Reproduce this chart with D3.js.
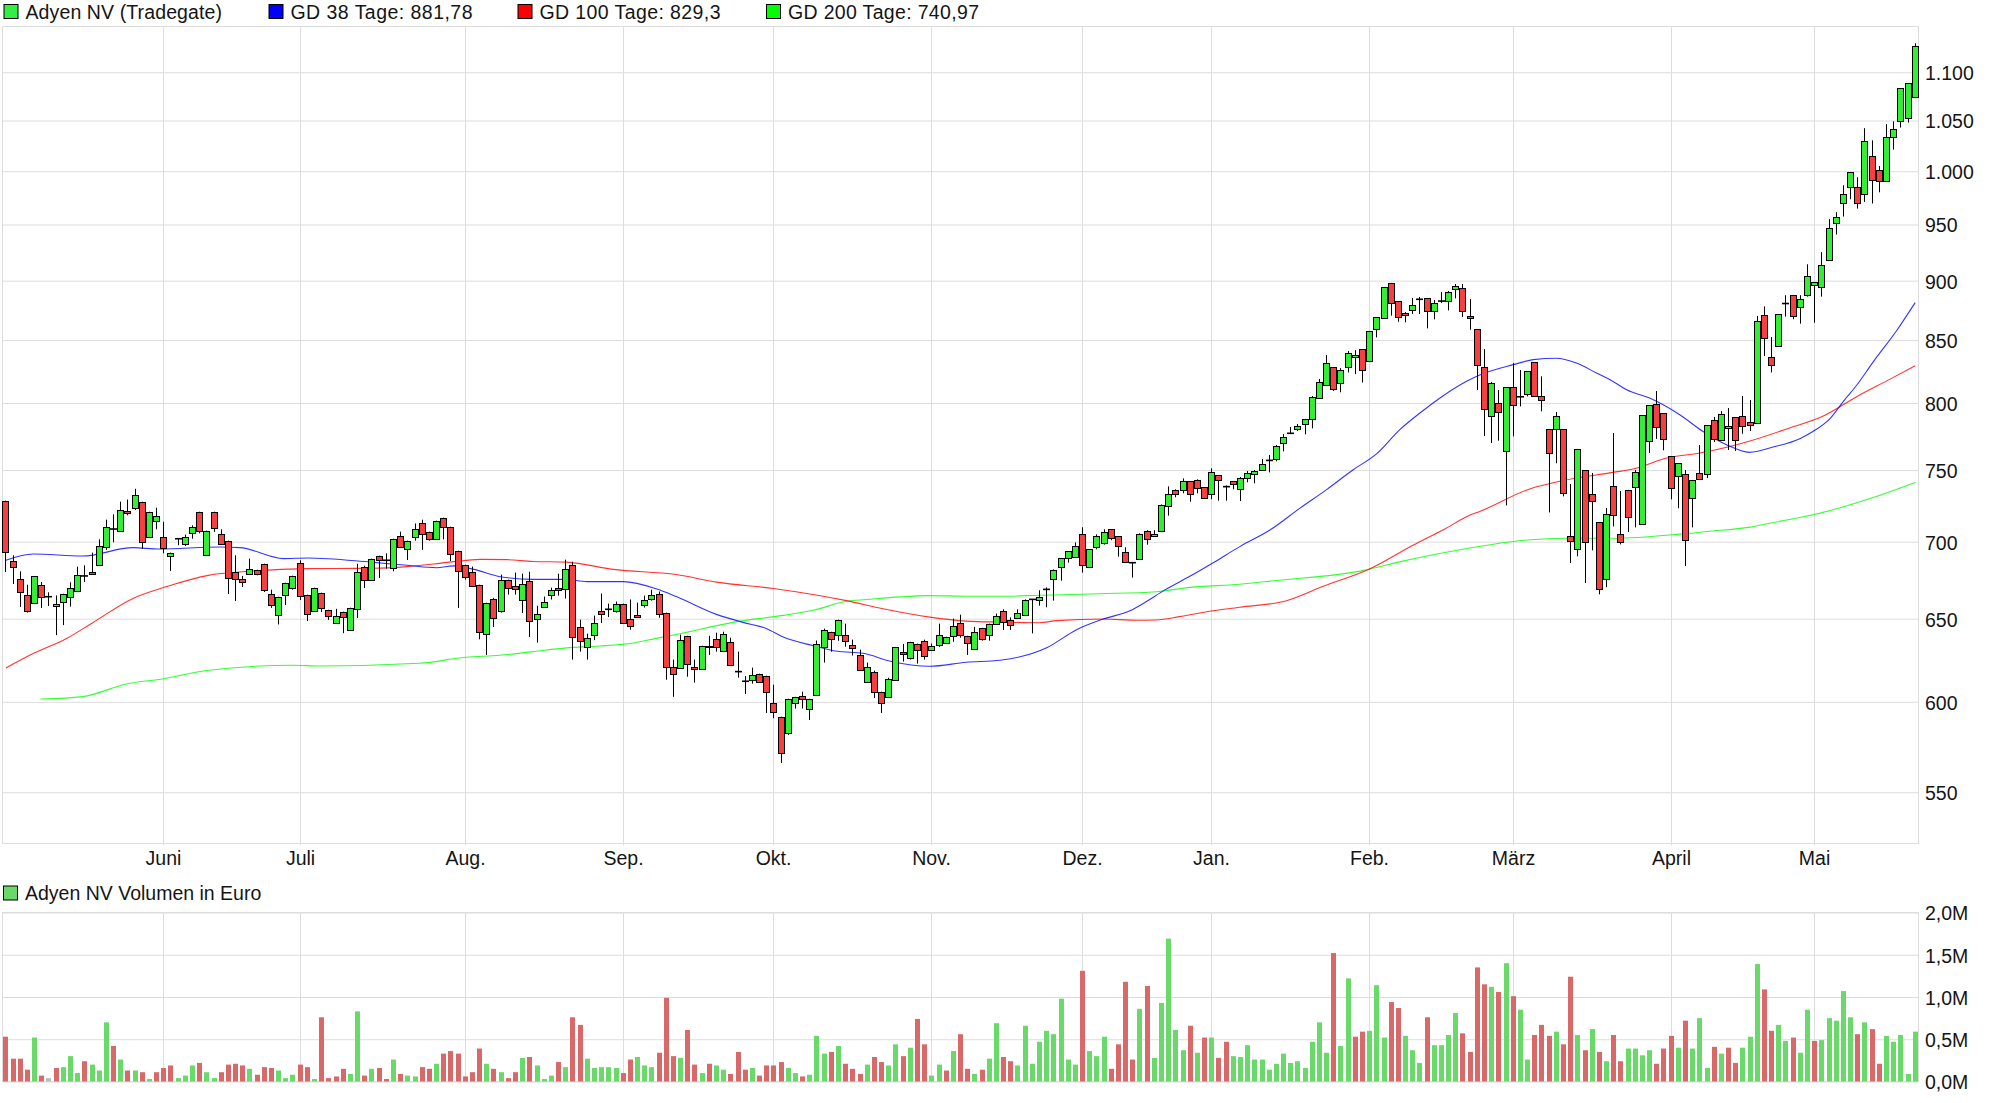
<!DOCTYPE html>
<html>
<head>
<meta charset="utf-8">
<title>Adyen NV</title>
<script src="https://cdn.jsdelivr.net/npm/d3@7"></script>
<style>
  body { margin: 0; background: #fff; }
  text { font-family: "Liberation Sans", Arial, sans-serif; font-size: 19.5px; fill: #151515; }
</style>
</head>
<body>
<svg id="chart" width="1997" height="1103"></svg>
<script>
// Kurse je Handelstag
const opens = [
  728.2,687.3,675.5,665.2,660.1,671.6,663.9,658,660.7,663.9,
  667.8,677.3,680.1,684.7,696.7,708.6,707.5,721.2,723.3,727.5,
  703.4,714.3,703.4,690.7,702,698.7,706.1,720.5,691.3,720.5,
  705.4,700.7,680.1,675.5,678.8,681.4,685.3,665.8,652.5,665.2,
  669.7,686,665.2,655,666.5,655.6,647.5,654.4,643.1,656.2,
  683.4,674.9,690.7,687.6,682.7,704,695.3,703.4,712.4,706.8,
  702,716.4,710.2,694,684.7,680.1,671.6,640.6,662.6,655.1,
  674.9,670.9,662.1,674.2,650,657.6,665.2,669.7,669,684.7,
  644.8,632.7,640.1,655.1,655.9,655.1,659.5,650,652.5,658.9,
  662.7,665.9,653.8,620.7,620.1,639.4,620.7,619.5,633.3,637.6,
  630.3,635.7,617.7,612,613,616.5,615.3,599.5,591.5,582.4,
  599.5,603.5,596.1,604,632.7,641.9,640.1,640.1,634,627.9,
  612,617.7,605.9,602.9,612.9,629.7,626.1,634.6,636.4,630.9,
  634,635,639.4,647.5,639.4,631.5,644.3,640.1,646.9,654.6,
  649,650.2,652.1,662.2,661.6,668.6,675.1,683,688.9,689.6,
  705,683,696.2,698.9,708.4,703.6,692.9,686,688.2,707.1,
  703.6,707.1,724.2,735.5,735.5,741.9,742.6,737.6,732.7,746.2,
  738.1,741.9,736.5,744.3,747.2,750,757,757.8,769.8,777,
  780.2,784,787.7,803.9,814,828.1,815.5,828.1,836.2,842.6,
  833,859.1,868.2,898.1,882.5,872.4,874.9,884,885.1,874.1,
  882.5,882.5,892.8,893.7,869.9,859.1,828.1,790.2,800,763.9,
  812.4,804.8,806.9,832.2,805.4,780.2,780.2,780.2,703.8,695.1,
  750,732.9,713.4,675.2,738.6,705.2,735.8,737.9,712.1,771.3,
  799.2,792.3,760.2,745.7,747.2,730,747.9,747.2,787,772,
  781,789.3,790,785.5,784.5,870.5,836.2,845,880.4,887.5,
  877.3,887.5,896.1,894.4,917.9,951.2,969.7,984.7,984.7,978.1,
  1014.5,1001,990.4,1033.3,1049.3,1052.3,1073.8
];
const closes = [
  693.3,683.4,667.1,655,677.3,663.9,663.9,659.5,665.8,669.7,
  678.2,677.3,678.8,697.3,710.2,708.6,721.7,719.8,732.4,700,
  720.5,717.7,696,692.7,702,703.4,710.2,707.5,707.5,709.5,
  698.7,676.2,675.5,673.6,682.1,678.8,668.4,658.8,663.9,672.9,
  677.5,664.5,653.2,669.7,656.9,651.9,651.9,651.3,656.9,680.1,
  674.9,688.7,688,687.6,702,696.7,700.7,708.9,704.8,702,
  714.3,710.2,692,680.8,676.8,671,641.9,660.1,650.6,674.9,
  669.7,669,672.3,648.8,653.2,660.8,668.4,668.4,682.1,638.8,
  636.3,638.2,647.5,653.2,655.9,659.5,647.5,645.7,651.3,662.1,
  665.2,653.2,620.7,616.5,637,622.5,619.5,633.3,632.6,632.7,
  640.7,621.9,617.7,612,615.9,612,605.9,594.2,571.4,601.8,
  602.9,601.8,601.8,634.6,643.2,637.6,649.4,636.5,632.2,618.9,
  620.7,605.9,599.5,613.5,632.6,628.5,635.7,630.9,627.3,633.3,
  640.1,638.8,645.7,640.1,635,641.9,637.6,646.9,651.9,647.7,
  645.9,653.4,661.6,662.2,663.5,668.6,681,688.9,693.5,696.9,
  684.3,694.9,703.6,706.4,702.3,696.9,686.3,686,705,701.6,
  705,724.9,732.7,732.7,741.9,732.7,736.9,729.8,748.3,742.6,
  738.1,739.8,744.3,747.9,749.3,754.4,757,767.6,774.2,777,
  782.5,787.7,804.6,816.3,831.4,810.8,825.7,839.4,837.8,825.7,
  857.4,869,894.5,880.8,869,870.8,879.1,884,874.1,880.8,
  882.5,890.2,895.4,874.1,868.2,829.8,795.4,815.5,793.1,812.4,
  798.4,804.8,825,805.4,802.3,762.4,790.1,733.6,700.5,765.4,
  699.8,728,668.8,718.9,718.2,699.8,716.8,748.6,790.8,798.4,
  781.7,772.8,737.2,755.1,701.2,742.9,743.6,783.2,772.8,791.5,
  782.5,772,782.5,783.2,865.5,851.5,829.8,871.4,880.4,869.7,
  884,903.9,898.7,913.4,946.6,956.7,978.1,999,969.7,1029.2,
  991.4,990.4,1033.3,1041.3,1083.2,1088.4,1127.9
];
const highs = [
  728.2,690.9,680.3,671.6,677.3,673.4,666.7,664.7,665.8,673.2,
  683.4,684.3,692.7,701.6,715,718.7,727.5,729,736.6,727.5,
  720.5,723.3,713.6,692.7,702,704.8,711.1,720.5,707.5,720.5,
  708.4,700.7,690.9,677.3,688.7,681.4,685.3,668.4,663.9,672.9,
  677.5,687.6,665.2,669.7,666.5,655.6,656.2,654.4,656.9,685.3,
  684,688.7,690.7,692.2,702,706.8,700.7,712.4,715,706.8,
  714.3,716.4,710.2,694,684.7,683.4,671.6,660.1,663.2,678.2,
  674.9,679.5,678.8,680.1,658.2,664,669.7,678.8,688,686.6,
  649.4,640.7,651.9,665.9,659.5,660.8,659.5,662.1,660.1,664.6,
  668.4,667.2,653.8,624.9,640.1,639.4,624.9,633.3,639.4,641.3,
  641.9,638.2,629.7,615.1,620.1,616.5,615.3,610,591.5,601.8,
  602.9,605.9,601.8,636.5,643.8,641.9,649.4,646.9,637,630.9,
  623.1,618.3,605.9,614.1,632.6,634.4,635.7,634.6,637,634.6,
  646.9,638.8,650,652.5,639.4,644.9,644.3,646.9,653.2,655.9,
  650.8,655.9,662.2,662.2,668,669.9,681.6,688.9,693.5,699.5,
  709.8,694.9,705,708.4,708.4,703.6,696.2,686,705.7,707.8,
  707.8,725.6,738.3,736.2,744,741.9,743.3,737.6,751.2,746.2,
  739,741.9,745,749.3,750,758,760.9,768.3,776.5,781.7,
  784,787.7,805.4,818.7,837.8,828.1,827.3,841,841.8,842.6,
  857.4,869,894.5,898.1,882.5,873.2,885.1,886,885.1,883.4,
  890.2,891.1,897.1,897.1,884.2,859.1,842.6,816.3,810,812.4,
  831.4,825.8,825,832.2,820.8,780.2,793.1,780.2,740,765.4,
  750,747.9,713.4,723.1,777.2,735,735.8,750,790.8,798.4,
  809.3,792.3,760.2,755.1,750,742.9,768.3,783.2,789.3,793.8,
  796.1,789.3,805.4,802.3,870,878,852.5,871.4,887.5,887.5,
  887.5,914.3,898.7,925,954.9,961.3,986.6,999,994.2,1042.3,
  1030.2,1005.1,1046.3,1049.3,1083.2,1088.4,1131
];
const lows = [
  679.9,672.1,657.4,653.8,660.1,656.8,658,639.8,646,657.6,
  667.8,673.4,678.8,684.7,694.5,699.6,707.5,718,721.7,695.3,
  702.5,708.4,692.2,680.6,697.6,697.1,702,705.7,691.3,706.6,
  698.7,665.6,661.2,670.1,678.8,677.7,666.9,656.8,646.4,658.6,
  668.4,661.8,648.6,655,654.2,649.2,647.5,641,643.1,650.4,
  669.5,674.9,676,682.1,680.3,696.7,687.8,700.7,694.5,700.7,
  702,701.6,687.1,656.8,674.9,671,637.2,627.7,644.8,653.8,
  665.2,665.2,653.6,638.6,635.2,657,662.1,664.6,662.7,624.9,
  629.7,624.9,636.7,647.3,651,653.8,647.5,643.2,651.3,657,
  661.4,650.6,612.9,602.9,620.1,614.7,611.2,619.5,627.7,629.7,
  630.3,621.9,614.1,604.5,610.6,611.8,593.6,590.6,565.7,581.1,
  596.1,596.1,589.6,604,623.1,629.7,636.3,632.7,627.3,618.9,
  612,602.2,593.6,602.9,612.9,623.7,624.9,622.5,624.9,630.9,
  632.5,635,635.7,638.2,627.7,631.5,636.4,636.4,646.3,643,
  643,650.2,652.1,640.9,658.2,657.2,661.4,674.2,686,689.6,
  679.5,683,694.9,698,701,690,686.3,676.2,688.2,698,
  703.6,707.1,717.8,730.6,733.4,727.5,733.4,729.8,729.2,728.2,
  728.2,736.2,728,741.2,740.5,750,748.3,756.3,763.6,776.5,
  778.7,776.2,780.7,803.9,813.2,809.3,808.3,823.9,822.6,816,
  833,852.2,868.2,870.2,865.1,864.6,871.6,871.6,859.6,867.1,
  880.8,874.6,884.8,869,858.5,810,775,769.8,771.5,724.9,
  774.7,797.4,805.1,805.4,793.6,720,754.9,731.2,685.8,690.2,
  672.7,694.2,665.4,670,710.4,698.2,706.5,709.7,712.1,762.4,
  772.8,764.4,729.1,722.9,683.8,709.7,743.6,744.3,770.5,772,
  764.6,763.9,776.7,778.7,784.5,837,823.9,845,869.4,867.2,
  863.5,886.3,864.3,886.3,917.9,940.9,957.3,973.4,964.7,970.9,
  969.4,979.9,990.4,1021,1042.9,1047.9,1073.8
];

// Volumen in Mio. Euro
const volumes = [
  .53,.27,.27,.14,.52,.07,.04,.16,.17,.30,
  .10,.24,.20,.13,.70,.42,.26,.13,.13,.11,
  .03,.11,.16,.19,.04,.07,.19,.22,.11,.04,
  .11,.20,.21,.19,.15,.08,.17,.16,.13,.04,
  .08,.20,.17,.03,.76,.04,.06,.15,.09,.83,
  .07,.15,.16,.03,.26,.09,.07,.06,.17,.15,
  .21,.33,.36,.33,.06,.11,.39,.21,.15,.11,
  .04,.11,.28,.29,.19,.03,.07,.23,.17,.76,
  .67,.27,.16,.17,.17,.16,.10,.26,.29,.19,
  .17,.34,.99,.30,.28,.61,.20,.10,.21,.19,
  .14,.09,.35,.14,.16,.07,.19,.19,.23,.16,
  .10,.06,.08,.54,.33,.35,.42,.21,.15,.09,
  .20,.29,.23,.19,.44,.30,.40,.74,.44,.07,
  .20,.13,.36,.56,.15,.09,.14,.27,.69,.29,
  .24,.19,.66,.21,.47,.60,.56,.98,.26,.20,
  1.31,.36,.30,.53,.15,.44,1.18,.26,.86,1.13,
  .28,.93,1.69,.61,.37,.66,.34,.52,.52,.28,
  .47,.30,.29,.43,.26,.26,.14,.21,.33,.22,
  .24,.16,.47,.70,.34,1.52,.42,1.22,.53,.59,
  .60,1.14,.52,.94,.87,.54,.37,.22,.76,.43,
  .43,.55,.81,.57,.35,1.35,1.15,1.12,1.06,1.40,
  1.01,.85,.26,.55,.67,.54,.59,.44,1.24,.55,
  .37,.62,.35,.24,.55,.24,.39,.39,.31,.37,
  .21,.39,.54,.40,.72,.39,.75,.16,.41,.33,
  .40,.22,.40,.53,1.39,1.09,.60,.67,.48,.52,
  .34,.85,.48,.49,.75,.72,1.07,.76,.56,.70,
  .62,.21,.54,.47,.55,.09,.59
];
const volumeDirs = (
  "rrrrgrnrgg" + "grgggrgrgr" + "grrrgggrgg" + "rrrrgrrrgg" + "grrgrrrrgg" +
  "rgrrgrggrr" + "grrrrrrgrg" + "rrgrgggrgr" + "rgggggrrgg" + "grrrgrrgrg" +
  "grrrgrrrrg" + "grgggrgrrr" + "grrggrgrrg" + "grgrrgrggr" + "rggggggggg" +
  "rgggrrrrgr" + "gggggrgrgr" + "rggggggggg" + "gggggrggrr" + "gggrrgggrg" +
  "gggrrrrgrg" + "rggrrrgrrg" + "rgrgrrgggg" + "rrrgrgggrg" + "rrgggrrggr" +
  "ggrgggggrg" + "rrggggg"
).split("");

const gd38 = [
  [1,687.6],[4.8,691.8],[11.7,690.4],[18.7,696],[22.4,695.1],[30.8,696.4],[33.6,696],[39.7,688.7],
  [43,689.1],[51.8,686.4],[56.9,684.3],[61,682.7],[63.4,683.9],[66.2,681.6],[69.9,676.8],[74.4,675.1],
  [79.1,675.1],[81.9,673.6],[87,673.6],[91.6,669],[94.4,664],[100,652.7],[103.7,647.7],[107,643.8],
  [109.3,638.6],[113.5,633.3],[116.8,629.9],[120.4,628.7],[124.1,624.1],[129.7,620.9],[134.8,623.3],[139.5,624.5],
  [146,632],[150.1,643],[153.9,649.8],[157.6,655],[159.9,660.8],[162.3,667.8],[166,677.2],[169.2,686],
  [172.9,696.7],[177.1,707.9],[181.3,723],[185,736],[188.7,750.2],[192,761.9],[195.2,779.7],[198,792.3],
  [200.8,803.9],[204.5,816.9],[206.4,822.1],[211,830.1],[213.8,834.1],[217,835.2],[219.8,831.4],[222.6,823.4],
  [224.9,816.8],[226.8,810.3],[230,803.8],[234.2,791],[237.4,778.5],[240.7,768.5],[243.9,762.9],[247.2,766.8],
  [251,773.2],[252.8,778.5],[255.2,788.5],[257,801.3],[258.9,814.2],[261.2,832.7],[264.5,858.5],[267,881.2]
];
const gd100 = [
  [1,619.9],[4.8,628.6],[9.4,637.6],[13.1,647.5],[18.7,662.8],[23.4,670.4],[29.2,677.7],[33.6,679.9],
  [43,682.1],[52.3,682.3],[56.9,683.4],[60.6,685.1],[63.4,686.7],[67.1,688.2],[70.8,688],[74.4,686.8],
  [79.1,686.4],[85.6,681.6],[94.4,678.2],[100,673.3],[107.9,669.2],[118.1,661.4],[123.2,656.3],[129.7,651],
  [134.8,648.5],[139.5,647.9],[145,647.5],[147.4,648.8],[153.9,649.8],[158.5,649],[161.3,649.2],[164.5,651.3],
  [168.3,654.4],[172.9,657.2],[179.3,661.2],[184.7,670.9],[190.9,681.7],[197.1,697.8],[201.2,707.9],[205,718.2],
  [206.4,720.8],[213.3,736.5],[217.5,741.9],[224.9,748.3],[227.7,750.7],[232.4,758.8],[237,762.4],[244,771.3],
  [249.5,781],[254.2,790],[258.9,805.1],[263.5,818.6],[267,829.3]
];
const gd200 = [
  [5.8,601.6],[11.7,603],[17.8,610.4],[23,613.5],[28.9,618.4],[41,621.5],[44.7,621.1],[58.6,622.7],
  [65.1,626.3],[69.8,627.5],[74.4,629.7],[79.1,632],[83.7,633.1],[88.4,635],[91.6,637.8],[94.4,640.2],
  [102.3,647.7],[109.3,652.1],[113.5,655.3],[118.1,661],[120.9,662.1],[125.5,663.8],[129.7,664.6],[134.8,664.2],
  [139.5,664.2],[145,664.8],[153.4,665.8],[161.3,667.1],[166,669.9],[172.9,671.9],[177.6,674.2],[190,680.8],
  [195.3,686.7],[204.2,695.1],[213,701.2],[218.5,702.3],[224.9,702.3],[234.2,705.1],[238,706.9],[244,709.9],
  [248.2,714],[252.8,718.4],[257.5,724.7],[262.1,732],[267,741]
];

const priceTicks = [550,600,650,700,750,800,850,900,950,1000,1050,1100];
const volumeTicks = [0,0.5,1,1.5,2];
const monthDays = [23,42,65,87,108,130,151,169,191,211,233,253];
const monthNames = ["Juni","Juli","Aug.","Sep.","Okt.","Nov.","Dez.","Jan.","Feb.","März","April","Mai"];

const legendTop = [
  { label: "Adyen NV (Tradegate)", color: "#33ee44", x: 4, textWidth: 196.5 },
  { label: "GD 38 Tage: 881,78", color: "#0000ff", x: 269, textWidth: 182 },
  { label: "GD 100 Tage: 829,3", color: "#ff0000", x: 518, textWidth: 181 },
  { label: "GD 200 Tage: 740,97", color: "#00ff00", x: 766.5, textWidth: 191 }
];

const colors = { up: "#33ee33", down: "#f44040", volUp: "#69d969", volDown: "#d96868", volNone: "#bbbbbb", grid: "#dddddd" };

const left = 2.5, right = 1918.5;
const priceTop = 26.5, priceBottom = 843.5;
const volTop = 912.5, volBottom = 1081.5;

const svg = d3.select("#chart");

const x = d3.scaleLinear().domain([1, 267]).range([5.88, 1915.2]);
const y = d3.scaleLog().domain([523.5, 1149.5]).range([priceBottom, priceTop]);
const yVol = d3.scaleLinear().domain([0, 2]).range([volBottom, volTop]);

const cx = d => Math.floor(x(d)) + 0.5;
const dayIndex = d3.range(1, opens.length + 1);
const de = d3.formatLocale({ decimal: ",", thousands: ".", grouping: [3], currency: ["", "€"] });

function styleAxis(g) {
  g.select(".domain").remove();
  g.selectAll("line").attr("stroke", colors.grid).attr("stroke-width", 1);
  g.selectAll("text").attr("fill", "#151515").style("font-size", "19.5px");
}

// Rahmen
[[priceTop, priceBottom], [volTop, volBottom]].forEach(([t, b]) => {
  svg.append("rect")
    .attr("x", left).attr("y", t)
    .attr("width", right - left).attr("height", b - t)
    .attr("fill", "none").attr("stroke", colors.grid);
});

// Achsen mit Gitter
svg.append("g")
  .attr("transform", `translate(${right},0)`)
  .call(d3.axisRight(y).tickValues(priceTicks).tickSize(-(right - left)).tickPadding(6.5).tickFormat(de.format(",d")))
  .call(styleAxis)
  .call(g => g.selectAll("text").attr("dy", "0.38em"));

svg.append("g")
  .attr("transform", `translate(${right},0)`)
  .call(d3.axisRight(yVol).tickValues(volumeTicks).tickSize(-(right - left)).tickPadding(6.5)
    .tickFormat(d => de.format(".1f")(d) + "M"))
  .call(styleAxis)
  .call(g => g.selectAll("text").attr("dy", "0.38em"));

const dayX = d3.scaleOrdinal().domain(monthDays).range(monthNames);

svg.append("g")
  .attr("transform", `translate(0,${priceBottom})`)
  .call(d3.axisBottom(x).tickValues(monthDays).tickSize(-(priceBottom - priceTop)).tickPadding(7).tickFormat(d => dayX(d)))
  .call(styleAxis)
  .call(g => g.selectAll(".tick").attr("transform", d => `translate(${cx(d)},0)`))
  .call(g => g.selectAll("line").attr("y2", 2).attr("y1", -(priceBottom - priceTop)))
  .call(g => g.selectAll("text").attr("y", 8).attr("dy", "0.71em"));

svg.append("g")
  .attr("transform", `translate(0,${volBottom})`)
  .call(d3.axisBottom(x).tickValues(monthDays).tickSize(-(volBottom - volTop)).tickFormat(""))
  .call(styleAxis)
  .call(g => g.selectAll(".tick").attr("transform", d => `translate(${cx(d)},0)`));

// gleitende Durchschnitte
const maLine = d3.line().x(d => x(d[0])).y(d => y(d[1])).curve(d3.curveMonotoneX);
[[gd200, "#00ff00"], [gd100, "#ff0000"], [gd38, "#0000ff"]].forEach(([series, color]) => {
  svg.append("path")
    .attr("d", maLine(series))
    .attr("fill", "none")
    .attr("stroke", color)
    .attr("stroke-opacity", 0.8)
    .attr("stroke-width", 1.1);
});

// Kerzen
const candles = svg.append("g").selectAll("g").data(dayIndex).join("g");

candles.append("line")
  .attr("x1", cx).attr("x2", cx)
  .attr("y1", d => y(highs[d - 1]))
  .attr("y2", d => y(lows[d - 1]))
  .attr("stroke", "#000").attr("stroke-width", 1);

candles.filter(d => opens[d - 1] !== closes[d - 1]).append("rect")
  .attr("x", d => cx(d) - 3)
  .attr("width", 6)
  .attr("y", d => Math.round(y(Math.max(opens[d - 1], closes[d - 1]))) + 0.5)
  .attr("height", d => Math.max(1, Math.round(y(Math.min(opens[d - 1], closes[d - 1])) - y(Math.max(opens[d - 1], closes[d - 1])))))
  .attr("fill", d => closes[d - 1] > opens[d - 1] ? colors.up : colors.down)
  .attr("stroke", "#000").attr("stroke-width", 1);

// ohne Körper: nur ein schwarzer Strich
candles.filter(d => opens[d - 1] === closes[d - 1]).append("line")
  .attr("x1", d => cx(d) - 3.5).attr("x2", d => cx(d) + 3.5)
  .attr("y1", d => y(opens[d - 1])).attr("y2", d => y(opens[d - 1]))
  .attr("stroke", "#000").attr("stroke-width", 1.6);

// Volumen
svg.append("g").selectAll("rect").data(dayIndex).join("rect")
  .attr("x", d => cx(d) - 2.5)
  .attr("width", 5)
  .attr("y", d => yVol(volumes[d - 1]))
  .attr("height", d => yVol(0) - yVol(volumes[d - 1]))
  .attr("fill", d => {
    const dir = volumeDirs[d - 1];
    return dir === "g" ? colors.volUp : dir === "r" ? colors.volDown : colors.volNone;
  });

// Legenden
const legend = svg.append("g").selectAll("g").data(legendTop).join("g")
  .attr("transform", d => `translate(${d.x},4.5)`);
legend.append("rect")
  .attr("width", 14).attr("height", 14)
  .attr("fill", d => d.color).attr("stroke", "#000");
legend.append("text")
  .attr("x", 21.5).attr("y", 8).attr("dy", "0.35em")
  .attr("textLength", d => d.textWidth)
  .attr("lengthAdjust", "spacing")
  .text(d => d.label);

const legendVol = svg.append("g").attr("transform", "translate(3.5,886)");
legendVol.append("rect")
  .attr("width", 14).attr("height", 14)
  .attr("fill", colors.volUp).attr("stroke", "#000");
legendVol.append("text")
  .attr("x", 21.5).attr("y", 7).attr("dy", "0.35em")
  .text("Adyen NV Volumen in Euro");
</script>
</body>
</html>
